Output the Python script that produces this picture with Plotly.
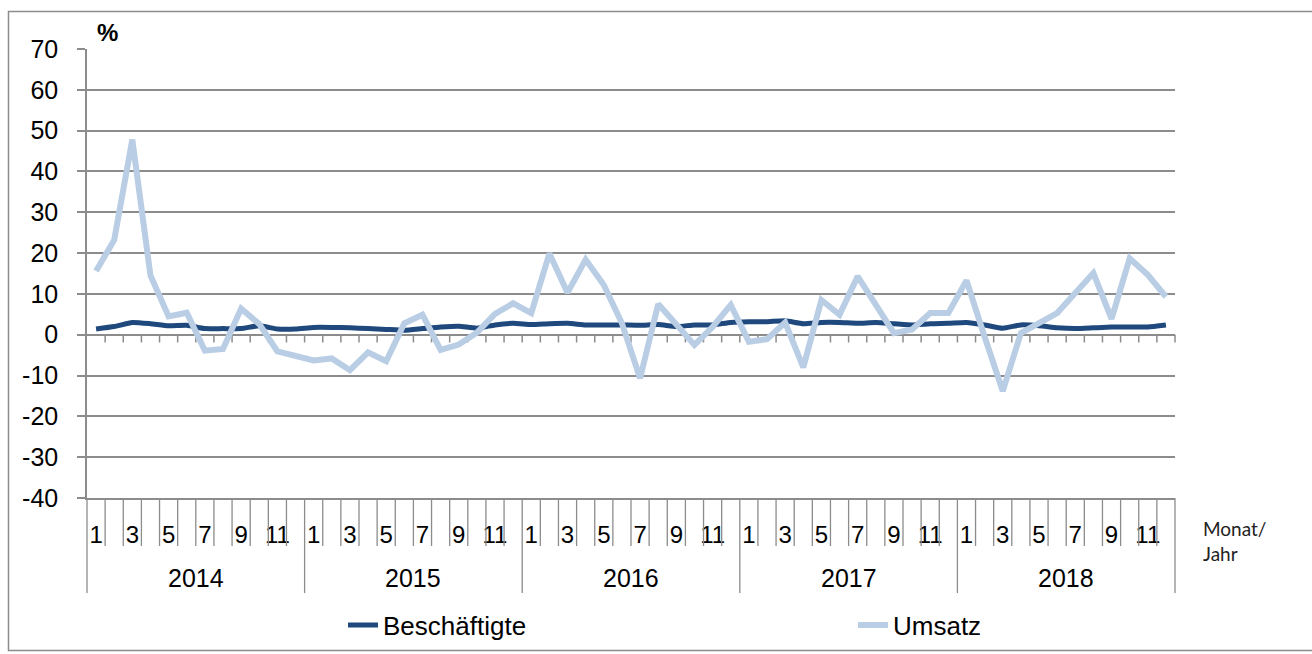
import plotly.graph_objects as go

# ---- data -------------------------------------------------------------
years = ["2014", "2015", "2016", "2017", "2018"]
months = list(range(1, 13))
shown_months = [1, 3, 5, 7, 9, 11]

beschaeftigte = [1.4, 2.0, 3.0, 2.7, 2.2, 2.3, 1.5, 1.5, 1.5, 2.2, 1.4, 1.4,
                 1.8, 1.8, 1.7, 1.5, 1.3, 1.1, 1.5, 1.9, 2.1, 1.6, 2.4, 2.8,
                 2.5, 2.7, 2.8, 2.4, 2.4, 2.4, 2.3, 2.5, 2.0, 2.4, 2.4, 3.0,
                 3.2, 3.2, 3.4, 2.7, 3.0, 3.0, 2.8, 3.0, 2.7, 2.4, 2.7, 2.8,
                 3.0, 2.4, 1.6, 2.4, 2.2, 1.7, 1.5, 1.7, 1.9, 1.9, 1.9, 2.4]

umsatz = [15.6, 23.2, 47.8, 14.5, 4.5, 5.4, -3.9, -3.5, 6.4, 2.6, -4.1, -5.1,
          -6.3, -5.8, -8.7, -4.3, -6.5, 2.8, 4.9, -3.7, -2.4, 0.5, 5.1, 7.7,
          5.3, 19.9, 10.3, 18.4, 12.2, 2.8, -10.7, 7.5, 2.4, -2.5, 1.9, 7.3,
          -1.7, -1.1, 3.0, -8.0, 8.5, 4.9, 14.3, 7.3, 0.4, 1.3, 5.3, 5.3,
          13.3, -0.5, -13.8, 0.4, 2.8, 5.3, 10.2, 15.1, 3.9, 18.7, 14.7, 9.3]

y_ticks = list(range(-40, 80, 10))

# ---- derived ----------------------------------------------------------
n = len(years) * len(months)
x = list(range(n))
tickvals, ticktext = [], []
for yi, _ in enumerate(years):
    for m in months:
        if m in shown_months:
            tickvals.append(yi * 12 + m - 1)
            ticktext.append(str(m))

FONT = "Liberation Sans, Arial, sans-serif"
GRID = "#8C8C8C"
DARK = "#1F497D"
LIGHT = "#B9CDE5"

L, R, T, B = 87, 137, 49, 156
W, H = 1312, 654
pw, ph = W - L - R, H - T - B

def px_x(p):
    return (p - L) / pw

def px_y(p):
    return (H - B - p) / ph

fig = go.Figure()
fig.add_trace(go.Scatter(x=x, y=beschaeftigte, mode="lines", name="Beschäftigte",
                         legend="legend",
                         line=dict(color=DARK, width=5, shape="spline", smoothing=0.5)))
fig.add_trace(go.Scatter(x=x, y=umsatz, mode="lines", name="Umsatz",
                         legend="legend2",
                         line=dict(color=LIGHT, width=6)))

shapes = []
# small ticks on the zero line
for k in range(1, n + 1):
    shapes.append(dict(type="line", xref="paper", yref="y",
                       x0=k / n, x1=k / n, y0=0, y1=-1.9,
                       line=dict(color=GRID, width=1.5), layer="below"))
# category divider lines below the plot
for k in range(0, n + 1):
    bottom = 593 if k % 12 == 0 else 546
    shapes.append(dict(type="line", xref="paper", yref="paper",
                       x0=k / n, x1=k / n, y0=0, y1=px_y(bottom),
                       line=dict(color=GRID, width=1.3)))
# outer border
shapes.append(dict(type="rect", xref="paper", yref="paper",
                   x0=px_x(8.5), x1=px_x(1330), y0=px_y(650.5), y1=px_y(11.5),
                   line=dict(color=GRID, width=1.5), fillcolor="rgba(0,0,0,0)"))

annotations = []
for yi, yr in enumerate(years):
    annotations.append(dict(text=yr, xref="x", yref="paper", x=yi * 12 + 5.5,
                            y=px_y(578), showarrow=False, xanchor="center", yanchor="middle",
                            font=dict(family=FONT, size=25, color="black")))
annotations.append(dict(text="<b>%</b>", xref="paper", yref="paper", x=px_x(107), y=px_y(32),
                        showarrow=False, xanchor="center", yanchor="middle",
                        font=dict(family=FONT, size=24, color="black")))
annotations.append(dict(text="Monat/<br>Jahr", xref="paper", yref="paper", x=px_x(1201), y=px_y(541),
                        showarrow=False, xanchor="left", yanchor="middle", align="left",
                        font=dict(family="Lato, Open Sans, sans-serif", size=19, color="#222222")))

legend_common = dict(orientation="h", yanchor="middle", xanchor="left", y=px_y(625),
                     font=dict(family=FONT, size=26, color="black"),
                     bgcolor="rgba(0,0,0,0)", itemclick=False, itemdoubleclick=False)

fig.update_layout(
    width=W, height=H,
    margin=dict(l=L, r=R, t=T, b=B, pad=0, autoexpand=False),
    paper_bgcolor="white", plot_bgcolor="white",
    font=dict(family=FONT, size=24, color="black"),
    showlegend=True,
    legend=dict(x=px_x(343), **legend_common),
    legend2=dict(x=px_x(853), **legend_common),
    shapes=shapes, annotations=annotations,
)
fig.update_xaxes(range=[-0.5, n - 0.5], tickmode="array", tickvals=tickvals, ticktext=ticktext,
                 showgrid=False, zeroline=False, showline=True, linecolor=GRID, linewidth=1.5,
                 ticks="", ticklabelstandoff=14, tickfont=dict(family=FONT, size=24),
                 fixedrange=True)
fig.update_yaxes(range=[-40, 70], tickmode="array", tickvals=y_ticks,
                 ticktext=[str(v) for v in y_ticks],
                 showgrid=True, gridcolor=GRID, gridwidth=1.5, zeroline=False,
                 showline=True, linecolor=GRID, linewidth=1.5,
                 ticks="outside", ticklen=8, tickcolor=GRID, tickwidth=1.5,
                 ticklabelstandoff=14, tickfont=dict(family=FONT, size=25), fixedrange=True)

fig.write_html("out.html", config={"displayModeBar": False},
               post_script="document.body.style.margin='0';document.body.style.overflow='hidden';")
